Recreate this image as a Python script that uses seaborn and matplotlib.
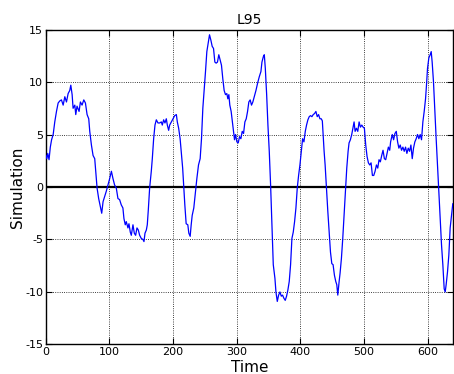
import matplotlib
matplotlib.use("Agg")
import matplotlib.pyplot as plt
import seaborn as sns
import pandas as pd

# values
time = [0, 1.5, 3, 5, 7, 9, 11.5, 14, 16.7, 19.3, 21.9, 24.5, 27.2, 29.8, 32.4, 35, 37.6, 39.2,
        41.3, 42.8, 45.5, 47, 49, 52.2, 54.3, 56.9, 59.6, 62.2, 64.8, 67.4, 69, 71.6, 74.2, 76.8,
        78.4, 80.5, 83, 85.7, 87.8, 89.9, 92.5, 95, 97.7, 100.3, 103, 105.5, 108,
        110.7, 113.3, 115.9, 118.5, 121.1, 122.7, 124.8, 126.4, 129, 130.6, 132.7, 134.3, 136.9,
        139, 141.1, 143.2, 145.3, 147.4, 150, 152.6, 154.2, 155.8, 157.9, 159.4, 161, 163.1,
        165.7, 167.3, 169.4, 171.5, 173.6, 176.2, 178.8, 181.5, 183, 185.1, 187.2, 189.3, 190.9,
        193, 194.6, 197.2, 199.9, 202.5, 205.1, 206.6, 208.7,
        211, 213, 215, 216.8, 218.4, 220.5, 223.1, 224.7, 226.8, 228.4, 230, 232.5, 234.6, 237.3,
        239.9, 242.5, 244.6, 246.7, 248.8, 250.9, 253, 255.1, 257.2, 259.3, 261.4, 263.5, 265.6,
        267.6, 269.7, 271.8, 273.9, 276, 278.1, 280.2, 282.3, 284.4, 286, 287.6, 289.1, 291.2,
        292.8, 294.9, 296.5, 298.1, 300.2, 302.3, 304.4, 306.5, 308.6, 310.7, 312.8, 314.9, 317,
        319, 321.1, 323.2, 325.3,
        327.6, 330.2, 332.8, 335.4, 338, 339.6, 341.7, 343.3, 344.9, 347, 349, 351.1, 353.2,
        355.3, 357.4, 360, 361.6, 363.7, 365.8, 367.9, 370, 372, 374.1, 376.2, 378.3, 380.4,
        382.5, 384.6, 386.7, 388.8, 390.9, 393, 395.1, 397.2, 399.3, 401.4, 403.5, 405.6, 407.7,
        409.7, 411.8, 413.9, 416, 418.1, 420.2, 422.3, 424.4, 426.5, 428.6, 430.7, 432.8, 434.5,
        435.8, 437.3, 438.9, 441, 443.1, 445.2, 447.3, 449.4, 451.4, 453.5, 455.6, 457.2, 458.8,
        460.9, 462.4, 464.5, 466.6, 468.7, 470.8, 472.9, 475, 476.5, 478.6, 480.7, 482.8, 484.4,
        486, 488.1, 490.2, 492.3, 494.4, 496.5, 498.6, 500.6, 502.7, 504.8, 506.9, 509, 511.1,
        513.2, 515.3, 517.4, 519.5, 521.6, 523.6, 525.7, 527.8, 529.9, 532, 534.1, 536.2, 538.3,
        540.4,
        541.8, 544.4, 546.5, 548.6, 550.7, 552.8, 554.8, 556.9, 559, 561.1, 563.2, 565.3, 567.4,
        569.5, 571.6, 573.7, 575.8, 577.8, 579.9, 582, 584.1, 586.2, 588.3, 590.4, 592.5, 594.6,
        596.7, 598.2, 599.8, 601.9, 604, 605.6, 607.1, 609.2, 611.3, 613.4, 615.5, 617.6, 619.7,
        621.8, 623.9, 626, 627.6, 629.1, 631.2, 633.3, 635.4, 637.5, 639.5]

simulation = [3.0, 2.7, 3.2, 2.6, 3.8, 4.5, 5.0, 6.2, 7.2, 8.0, 8.2, 8.3, 7.8, 8.6, 8.1, 8.9, 9.2, 9.7,
              8.8, 7.5, 7.8, 6.9, 7.7, 7.2, 8.1, 7.8, 8.3, 8.0, 6.9, 6.5, 5.3, 4.0, 3.0, 2.7,
              1.5, -0.1, -1.1, -1.9, -2.5, -1.4, -0.9, -0.4, 0.2, 0.8, 1.5, 0.8, 0.2,
              -0.1, -1.1, -1.2, -1.7, -2.0, -3.0, -3.6, -3.3, -3.9, -3.5, -4.3, -4.6, -3.6,
              -4.4, -4.6, -3.9, -4.1, -4.6, -4.9, -5.0, -5.2, -4.4, -4.1, -3.6, -2.2, -0.1,
              1.5, 2.7, 4.6, 5.9, 6.4, 6.1, 6.1, 6.2, 5.9, 6.4, 6.1, 6.5, 5.9,
              5.4, 5.9, 6.2, 6.5, 6.8, 6.9, 6.2, 5.6,
              4.6, 3.2, 1.8, -0.1, -1.7, -3.5, -3.6, -4.4, -4.7, -3.6, -2.7, -2.0, -0.8, 0.8,
              2.1, 2.7, 4.6, 7.5, 9.2, 11.0, 12.9, 13.7, 14.5, 14.0, 13.4, 13.2, 11.9,
              11.8, 11.9, 12.6, 12.1, 11.6, 10.3, 9.2, 8.8, 8.9, 8.4, 8.8, 7.8, 7.2,
              6.4, 5.3, 4.5, 5.0, 4.3, 4.2, 4.8, 4.6, 5.3, 5.1, 6.2, 6.5, 7.2,
              8.1, 8.3, 7.8, 8.1,
              8.6, 9.2, 9.9, 10.5, 11.0, 11.9, 12.4, 12.6, 11.3, 8.8, 5.9, 3.4, 0.2,
              -3.6, -7.4, -8.7, -10.0, -10.9, -10.3, -10.0, -10.4, -10.3, -10.6, -10.8, -10.4, -9.8,
              -9.0, -7.4, -4.9, -4.3, -3.3, -2.0, -0.1, 1.1, 2.1, 3.4, 4.6, 4.3, 5.3,
              5.9, 6.4, 6.7, 6.8, 6.7, 6.9, 7.0, 7.2, 6.7, 6.9, 6.5, 6.5, 6.3,
              5.0, 3.4, 2.1, -0.1, -2.3, -4.3, -6.2, -7.3, -7.4, -8.4, -9.0, -9.3, -10.3,
              -9.0, -8.2, -6.8, -4.9, -2.7, -0.4, 1.8, 3.4, 4.2, 4.5, 5.0, 5.7, 6.2,
              5.3, 5.6, 5.3, 6.2, 5.7, 5.9, 5.7, 5.6, 4.0, 2.9, 2.3, 2.1, 2.3,
              1.1, 1.1, 1.5, 2.1, 1.8, 2.6, 2.4, 3.0, 3.5, 2.7, 2.6, 3.2, 3.8,
              3.5,
              4.3, 5.0, 4.5, 5.1, 5.3, 4.3, 3.7, 4.0, 3.5, 3.8, 3.4, 3.8, 3.2,
              3.7, 3.4, 4.0, 2.7, 3.7, 4.3, 4.6, 5.0, 4.6, 5.0, 4.5, 6.2, 7.2,
              8.4, 9.7, 11.3, 12.3, 12.6, 12.9, 11.9, 10.0, 7.2, 4.6, 2.1, -0.4, -3.0,
              -5.5, -7.4, -9.7, -10.0, -9.3, -8.1, -6.5, -3.9, -2.7, -1.6]

x_ticks = [0, 100, 200, 300, 400, 500, 600]
y_ticks = [-15, -10, -5, 0, 5, 10, 15]

df = pd.DataFrame({"Time": time, "Simulation": simulation})

plt.rcParams["axes.unicode_minus"] = False
plt.rcParams["font.family"] = ["DejaVu Sans"]

fig = plt.figure(figsize=(4.54, 3.74), dpi=100)
ax = fig.add_axes([0.101, 0.079, 0.897, 0.842])

ax.axhline(0, color="black", linewidth=1.6, zorder=1)
sns.lineplot(data=df, x="Time", y="Simulation", ax=ax, color="#0000ff",
             linewidth=0.9, zorder=3, sort=False)

ax.set_xlim(0, 640)
ax.set_ylim(-15, 15)
ax.set_xticks(x_ticks)
ax.set_yticks(y_ticks)
ax.tick_params(direction="in", top=True, right=True, labelsize=8, length=4, width=0.8, pad=2)
ax.grid(True, linestyle=":", color="black", linewidth=0.6)
for s in ax.spines.values():
    s.set_color("black")
    s.set_linewidth(1.0)

ax.set_title("L95", fontsize=10, pad=4)
ax.set_xlabel("Time", fontsize=11, labelpad=2)
ax.set_ylabel("Simulation", fontsize=11, labelpad=0)

fig.savefig("out.png", dpi=100, facecolor="white")
